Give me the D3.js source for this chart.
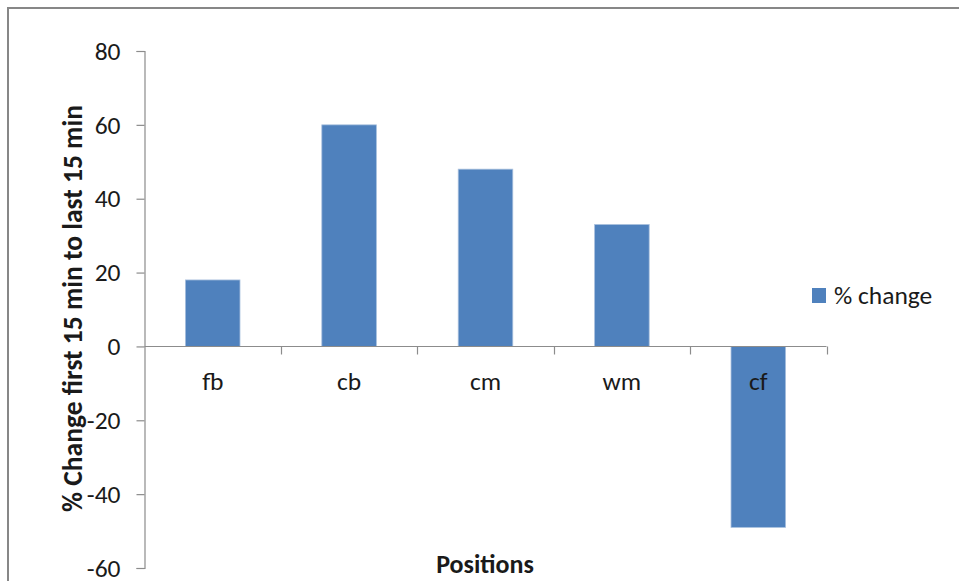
<!DOCTYPE html>
<html>
<head>
<meta charset="utf-8">
<script src="https://cdn.jsdelivr.net/npm/d3@7/dist/d3.min.js"></script>
<style>
  html, body { margin: 0; padding: 0; background: #fff; }
  svg { display: block; }
  text { font-family: Carlito, Calibri, Lato, "Open Sans", sans-serif; fill: #1a1a1a; }
</style>
</head>
<body>
<svg id="chart" width="959" height="581"></svg>
<script>
// Positions and their % change from the first 15 min to the last 15 min
const categories = ["fb", "cb", "cm", "wm", "cf"];
const changeValues = [18, 60, 48, 33, -49];
const yTicks = [80, 60, 40, 20, 0, -20, -40, -60];
const seriesName = "% change";
const yTitle = "% Change first 15 min to last 15 min";
const xTitle = "Positions";

const svg = d3.select("#chart");
const W = 959, H = 581;
const plot = { left: 144.5, right: 826.5, top: 51, bottom: 568 };
const barColor = "#4f81bd";
const axisColor = "#8c8c8c";
const labelSize = 25.5;

// outer chart frame (only top and left edges fall inside the view)
svg.append("rect")
  .attr("x", 8).attr("y", 8)
  .attr("width", W + 20).attr("height", H + 20)
  .attr("fill", "#fff")
  .attr("stroke", "#878787").attr("stroke-width", 2);

const y = d3.scaleLinear().domain([-60, 80]).range([plot.bottom, plot.top]);
const x = d3.scaleBand().domain(categories).range([plot.left, plot.right])
  .paddingInner(0.6).paddingOuter(0.3);
const xb = d3.scaleBand().domain(categories).range([plot.left, plot.right]);

// bars
svg.append("g").selectAll("rect")
  .data(categories.map((c, i) => ({ c, v: changeValues[i] })))
  .join("rect")
  .attr("x", d => x(d.c))
  .attr("width", x.bandwidth())
  .attr("y", d => y(Math.max(0, d.v)))
  .attr("height", d => Math.abs(y(d.v) - y(0)))
  .attr("fill", barColor)
  .attr("stroke", "#a7bfdd").attr("stroke-width", 0.8);

// y axis
const yAxis = d3.axisLeft(y).tickValues(yTicks).tickSize(8).tickPadding(16)
  .tickFormat(d => String(d));
const gy = svg.append("g").attr("transform", `translate(${plot.left},0)`).call(yAxis);
gy.select(".domain").attr("stroke", axisColor).attr("stroke-width", 1.2);
gy.selectAll(".tick line").attr("stroke", axisColor).attr("stroke-width", 1.2);
gy.selectAll(".tick text").attr("font-size", labelSize).attr("fill", "#262626")
  .attr("font-family", "Carlito, Calibri, Lato, sans-serif");

// x axis at zero with tick marks between categories
const y0 = Math.round(y(0)) + 0.5;
const gx = svg.append("g");
gx.append("line")
  .attr("x1", plot.left).attr("x2", plot.right)
  .attr("y1", y0).attr("y2", y0)
  .attr("stroke", axisColor).attr("stroke-width", 1.2);
const boundaries = categories.slice(1).map(c => xb(c)).concat([plot.right]);
gx.selectAll("line.tk").data(boundaries).join("line")
  .attr("class", "tk")
  .attr("x1", d => Math.round(d) + 0.5).attr("x2", d => Math.round(d) + 0.5)
  .attr("y1", y0).attr("y2", y0 + 8)
  .attr("stroke", axisColor).attr("stroke-width", 1.2);
gx.selectAll("text").data(categories).join("text")
  .attr("x", d => xb(d) + xb.bandwidth() / 2)
  .attr("y", 390)
  .attr("text-anchor", "middle")
  .attr("font-size", labelSize)
  .attr("fill", "#262626")
  .text(d => d);

// axis titles
svg.append("text")
  .attr("transform", `translate(82,${(plot.top + plot.bottom) / 2 - 1}) rotate(-90)`)
  .attr("text-anchor", "middle")
  .attr("font-size", 27.5).attr("font-weight", "bold")
  .attr("fill", "#0d0d0d")
  .text(yTitle);
svg.append("text")
  .attr("x", 485).attr("y", 573)
  .attr("text-anchor", "middle")
  .attr("font-size", 26).attr("font-weight", "bold")
  .attr("fill", "#0d0d0d")
  .text(xTitle);

// legend
const lg = svg.append("g").attr("transform", "translate(812,288)");
lg.append("rect").attr("width", 14).attr("height", 15).attr("fill", barColor);
lg.append("text").attr("x", 22).attr("y", 16)
  .attr("font-size", labelSize).attr("fill", "#262626")
  .text(seriesName);
</script>
</body>
</html>
